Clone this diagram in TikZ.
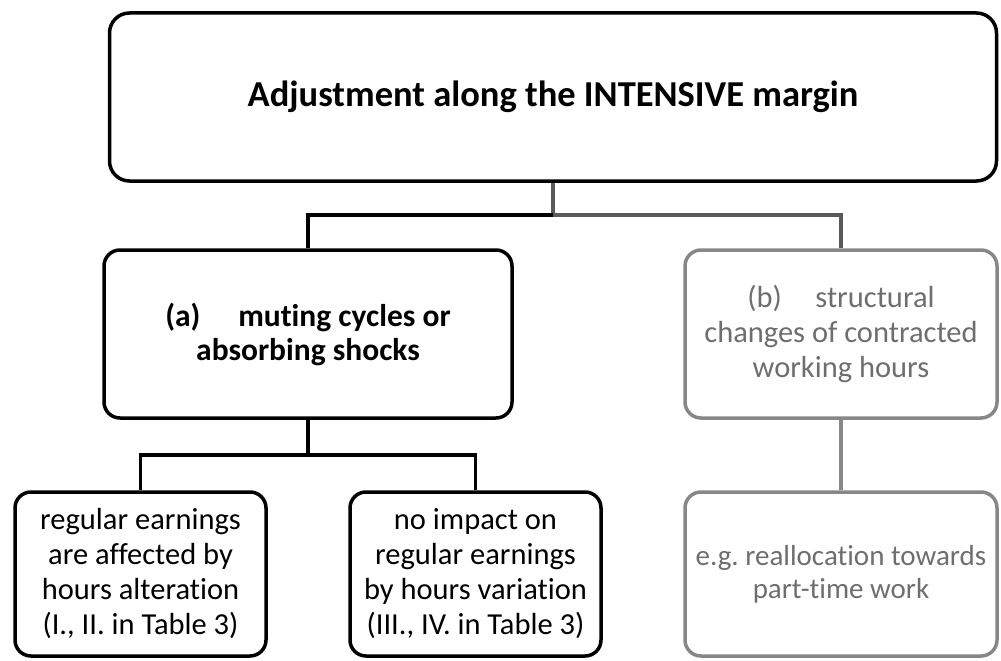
\documentclass[tikz,border=0pt]{standalone}
\usepackage{fontspec}
\setmainfont{Carlito}[Ligatures=NoCommon]
\usepackage{xcolor}
\usetikzlibrary{positioning,calc}
\frenchspacing

\definecolor{lnkgray}{HTML}{595959}
\definecolor{boxgray}{HTML}{878787}
\definecolor{txtgray}{HTML}{6E6E6E}

\tikzset{
    box/.style={draw, line width=3.5pt, rounded corners=16pt, align=center,
        inner sep=0pt, font=\fontsize{30.5}{35}\selectfont},
    greybox/.style={box, draw=boxgray, text=txtgray},
    link/.style={line width=3.5pt}
}

\begin{document}
\begin{tikzpicture}[x=1pt, y=-1pt]
    \useasboundingbox (0,0) rectangle (1001,661);

    % Top level
    \node[box, rounded corners=20pt, minimum width=887pt, minimum height=168pt,
        font=\fontsize{36.5}{42}\selectfont\bfseries] (top) at (553,97)
        {\raisebox{-5pt}{Adjustment along the INTENSIVE margin}};

    % Second level
    \node[box, minimum width=408pt, minimum height=168pt, font=\fontsize{31.5}{34}\selectfont\bfseries]
        (cyc) at (308,334) {(a)\hspace{1.2em}muting cycles or\\absorbing shocks};
    \node[greybox, minimum width=312pt, minimum height=168pt] (struct) at (841,334)
        {(b)\hspace{1.1em}structural\\changes of contracted\\working hours};

    % Third level
    \node[box, minimum width=251pt, minimum height=164pt] (earn) at (140.5,574)
        {regular earnings\\are affected by\\hours alteration\\(I., II. in Table 3)};
    \node[box, minimum width=251pt, minimum height=164pt] (noimp) at (475.5,574)
        {no impact on\\regular earnings\\by hours variation\\(III., IV. in Table 3)};
    \node[greybox, minimum width=312pt, minimum height=164pt, font=\fontsize{29}{33}\selectfont]
        (part) at (841,574) {e.g. reallocation towards\\part-time work};

    % Connectors
    \coordinate (j1) at (top.south |- 0,215);
    \draw[link, lnkgray] (top.south) -- (j1);
    \draw[link] (j1) -| (cyc.north);
    \draw[link, lnkgray] (j1) -| (struct.north);

    \coordinate (j2) at (cyc.south |- 0,455);
    \draw[link] (cyc.south) -- (j2);
    \draw[link] (j2) -| (earn.north);
    \draw[link] (j2) -| (noimp.north);

    \draw[link, boxgray] (struct.south) -- (part.north);
\end{tikzpicture}
\end{document}
